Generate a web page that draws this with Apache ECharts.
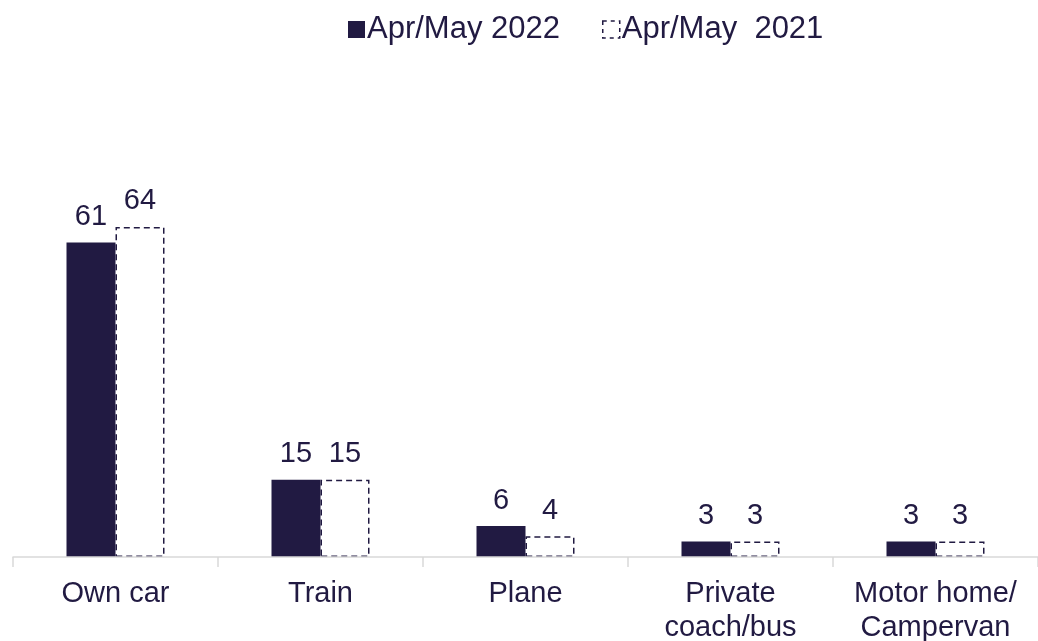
<!DOCTYPE html>
<html>
<head>
<meta charset="utf-8">
<script src="https://cdn.jsdelivr.net/npm/echarts@6/dist/echarts.min.js"></script>
<style>
  html, body { margin: 0; padding: 0; background: #fff; }
  #chart { width: 1038px; height: 641px; }
</style>
</head>
<body>
<div id="chart"></div>
<script>
const categories = ['Own car', 'Train', 'Plane', 'Private\ncoach/bus', 'Motor home/\nCampervan']
const values2022 = [61, 15, 6, 3, 3]
const values2021 = [64, 15, 4, 3, 3]
const seriesNames = ['Apr/May 2022', 'Apr/May  2021']

const ink = '#211a42'
const font = 'Liberation Sans, Arial, sans-serif'

const chart = echarts.init(document.getElementById('chart'))
chart.setOption({
  animation: false,
  textStyle: { fontFamily: font },
  legend: {
    top: 9,
    left: 343,
    icon: 'rect',
    itemWidth: 17,
    itemHeight: 17,
    itemGap: 42,
    textStyle: { color: ink, fontSize: 31, fontFamily: font, padding: [0, 0, 0, -3] },
    data: [
      { name: seriesNames[0] },
      { name: seriesNames[1], itemStyle: { color: '#fff', borderColor: ink, borderWidth: 1.5, borderType: [4, 4] } }
    ]
  },
  grid: { left: 13, right: 0, top: 196, bottom: 84, containLabel: false, outerBoundsMode: 'none' },
  xAxis: {
    type: 'category',
    data: categories,
    z: 5,
    axisLine: { lineStyle: { color: '#d9d9d9', width: 1.5 } },
    axisTick: { show: true, interval: 0, length: 10, lineStyle: { color: '#d9d9d9', width: 1.5 } },
    axisLabel: { interval: 0, hideOverlap: false, color: ink, fontSize: 29, fontFamily: font, margin: 20, lineHeight: 34 }
  },
  yAxis: { type: 'value', min: 0, max: 70, show: false },
  series: [
    {
      name: seriesNames[0],
      type: 'bar',
      data: values2022,
      barWidth: 49,
      barGap: '0%',
      itemStyle: { color: ink },
      label: { show: true, position: 'top', distance: 11, color: ink, fontSize: 29, fontFamily: font }
    },
    {
      name: seriesNames[1],
      type: 'bar',
      data: values2021,
      barWidth: 49,
      barGap: '0%',
      itemStyle: { color: '#ffffff', borderColor: ink, borderWidth: 1.5, borderType: [6, 4] },
      label: { show: true, position: 'top', distance: 11, color: ink, fontSize: 29, fontFamily: font }
    }
  ]
})
</script>
</body>
</html>
